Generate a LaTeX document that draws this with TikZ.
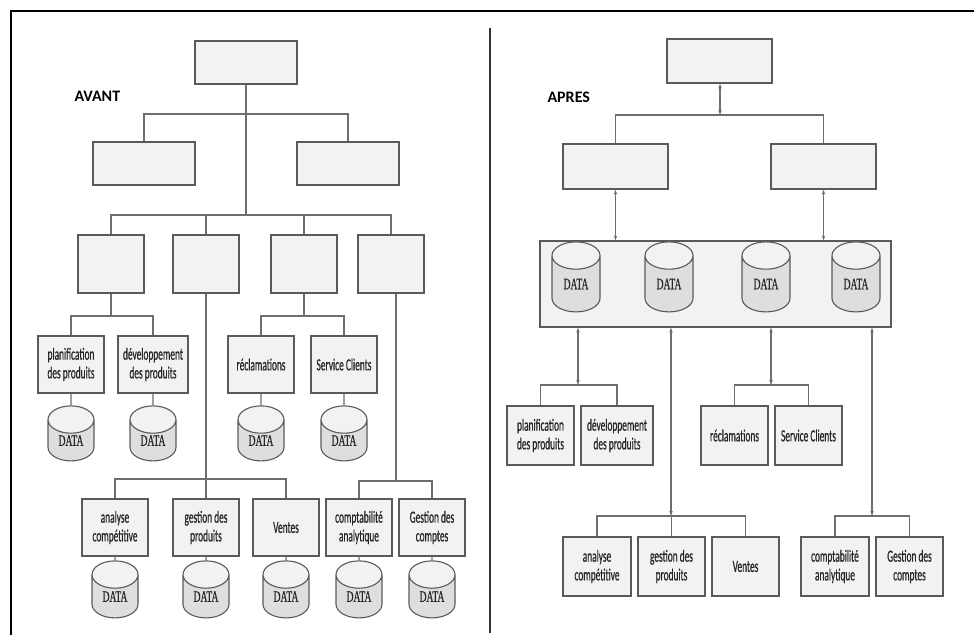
\documentclass[tikz,border=0pt]{standalone}
\usepackage{fontspec}
\newfontfamily\boxfont[FakeStretch=0.55,FakeBold=0.6]{Carlito}
\newfontfamily\datafont[FakeStretch=0.6,FakeBold=0.5]{Liberation Serif}
\newfontfamily\titlefont{Carlito}
\usetikzlibrary{shapes.geometric,arrows.meta}
\definecolor{boxfill}{HTML}{F2F2F2}
\definecolor{boxline}{HTML}{5A5A5A}
\definecolor{wire}{HTML}{6E6E6E}
\begin{document}
\begin{tikzpicture}[x=1pt, y=-1pt,
  main/.style = {draw=boxline, line width=1.3pt, fill=boxfill, minimum width=66pt, minimum height=57pt, inner sep=1pt, align=center, text=black!85, font=\boxfont\fontsize{17}{18.7}\selectfont},
  top/.style = {draw=boxline, line width=1.3pt, fill=boxfill, minimum width=102pt, minimum height=43pt},
  db/.style = {cylinder, shape border rotate=90, aspect=1.1, draw=boxline, line width=1.1pt, cylinder uses custom fill, cylinder body fill=black!13, cylinder end fill=black!5, minimum width=46pt, minimum height=55pt, inner sep=0pt, text=black!85, font=\datafont\fontsize{16}{16}\selectfont},
  wire/.style = {draw=wire, line width=1.2pt},
  dbl/.style = {wire, {Stealth[length=5pt,width=3.5pt]}-{Stealth[length=5pt,width=3.5pt]}}]
\useasboundingbox (0,0) rectangle (974,639);
\draw[line width=1.6pt] (11,635) -- (11,11) -- (974,11);
\draw[line width=1.4pt, black!80] (490,28) -- (490,633);

\node[font=\titlefont\bfseries\fontsize{16}{16}\selectfont, anchor=west] (avant) at (71,96) {AVANT};
\node[font=\titlefont\bfseries\fontsize{16}{16}\selectfont, anchor=west] (apres) at (544,97) {APRES};

\node[top] (t) at (246,62.5) {};
\node[top] (l1) at (144,163.5) {};
\node[top] (r1) at (348,163.5) {};

\node[main, minimum height=58pt] (a) at (111,264) {};
\node[main, minimum height=58pt] (b) at (206,264) {};
\node[main, minimum height=58pt] (c) at (304,264) {};
\node[main, minimum height=58pt] (d) at (391,264) {};

\node[main] (p1) at (71,364.5) {planification\\des produits};
\node[main, minimum width=70pt] (p2) at (153,364.5) {développement\\des produits};
\node[main] (p3) at (261,364.5) {réclamations};
\node[main] (p4) at (344,364.5) {Service Clients};

\node[db] (d1) at (71,440.5) {DATA};
\node[db] (d2) at (153,440.5) {DATA};
\node[db] (d3) at (261,440.5) {DATA};
\node[db] (d4) at (344,440.5) {DATA};

\node[main] (q1) at (115,527.5) {analyse\\compétitive};
\node[main] (q2) at (206,527.5) {gestion des\\produits};
\node[main] (q3) at (286,527.5) {Ventes};
\node[main] (q4) at (359,527.5) {comptabilité\\analytique};
\node[main] (q5) at (432,527.5) {Gestion des\\comptes};

\node[db, minimum height=57pt] (e1) at (115,596.5) {DATA};
\node[db, minimum height=57pt] (e2) at (206,596.5) {DATA};
\node[db, minimum height=57pt] (e3) at (286,596.5) {DATA};
\node[db, minimum height=57pt] (e4) at (359,596.5) {DATA};
\node[db, minimum height=57pt] (e5) at (432,596.5) {DATA};

\coordinate (j1) at (246,114);
\coordinate (j2) at (246,215);
\coordinate (ja) at (111,316);
\coordinate (jc) at (304,316);
\coordinate (jb) at (206,479);
\coordinate (jd) at (396,481);

\draw[wire] (t) -- (j1);
\draw[wire] (l1.north) |- (j1) -| (r1.north);
\draw[wire] (j1) -- (j2);
\draw[wire] (a.north) |- (j2) -| (d.north);
\draw[wire] (b.north) -- (b.north |- j2);
\draw[wire] (c.north) -- (c.north |- j2);

\draw[wire] (a) -- (ja);
\draw[wire] (p1.north) |- (ja) -| (p2.north);
\draw[wire] (c) -- (jc);
\draw[wire] (p3.north) |- (jc) -| (p4.north);
\draw[wire] (b) -- (jb);
\draw[wire] (q1.north) |- (jb) -| (q3.north);
\draw[wire] (q2.north) -- (jb);
\draw[wire] (d.south -| jd) -- (jd);
\draw[wire] (q4.north) |- (jd) -| (q5.north);

\foreach \i in {1,...,4} \draw[wire] (p\i) -- (d\i);
\foreach \i in {1,...,5} \draw[wire] (q\i) -- (e\i);

\node[top, minimum width=105pt, minimum height=44pt] (T) at (719.5,61) {};
\node[top, minimum width=105pt, minimum height=45pt] (L) at (615.5,166.5) {};
\node[top, minimum width=105pt, minimum height=45pt] (R) at (823.5,166.5) {};
\node[draw=boxline, line width=1.3pt, fill=boxfill, minimum width=351pt, minimum height=86pt] (S) at (715.5,284) {};

\node[db, minimum width=48pt, minimum height=70pt] (s1) at (576,284) {DATA};
\node[db, minimum width=48pt, minimum height=70pt] (s2) at (669,284) {DATA};
\node[db, minimum width=48pt, minimum height=70pt] (s3) at (766,284) {DATA};
\node[db, minimum width=48pt, minimum height=70pt] (s4) at (856,284) {DATA};

\node[main, minimum width=67pt, minimum height=59pt] (P1) at (540.5,435.5) {planification\\des produits};
\node[main, minimum width=72pt, minimum height=59pt] (P2) at (617,435.5) {développement\\des produits};
\node[main, minimum width=67pt, minimum height=59pt] (P3) at (734.5,435.5) {réclamations};
\node[main, minimum width=67pt, minimum height=59pt] (P4) at (808.5,435.5) {Service Clients};

\node[main, minimum width=68pt, minimum height=59pt] (Q1) at (597,566.5) {analyse\\compétitive};
\node[main, minimum width=67pt, minimum height=59pt] (Q2) at (671.5,566.5) {gestion des\\produits};
\node[main, minimum width=67pt, minimum height=59pt] (Q3) at (745.5,566.5) {Ventes};
\node[main, minimum width=68pt, minimum height=59pt] (Q4) at (835,566.5) {comptabilité\\analytique};
\node[main, minimum width=67pt, minimum height=59pt] (Q5) at (909.5,566.5) {Gestion des\\comptes};

\coordinate (J) at (720,115);
\coordinate (k1) at (578,385);
\coordinate (k2) at (671,516);
\coordinate (k3) at (771,385);
\coordinate (k4) at (872,516);

\draw[dbl] (T.south -| J) -- (J);
\draw[wire] (L.north) |- (J) -| (R.north);
\draw[dbl] (L.south) -- (L.south |- S.north);
\draw[dbl] (R.south) -- (R.south |- S.north);

\draw[dbl] (S.south -| k1) -- (k1);
\draw[wire] (P1.north) |- (k1) -| (P2.north);
\draw[dbl] (S.south -| k2) -- (k2);
\draw[wire] (Q1.north) |- (k2) -| (Q3.north);
\draw[wire] (Q2.north) -- (Q2.north |- k2);
\draw[dbl] (S.south -| k3) -- (k3);
\draw[wire] (P3.north) |- (k3) -| (P4.north);
\draw[dbl] (S.south -| k4) -- (k4);
\draw[wire] (Q4.north) |- (k4) -| (Q5.north);
\end{tikzpicture}
\end{document}
